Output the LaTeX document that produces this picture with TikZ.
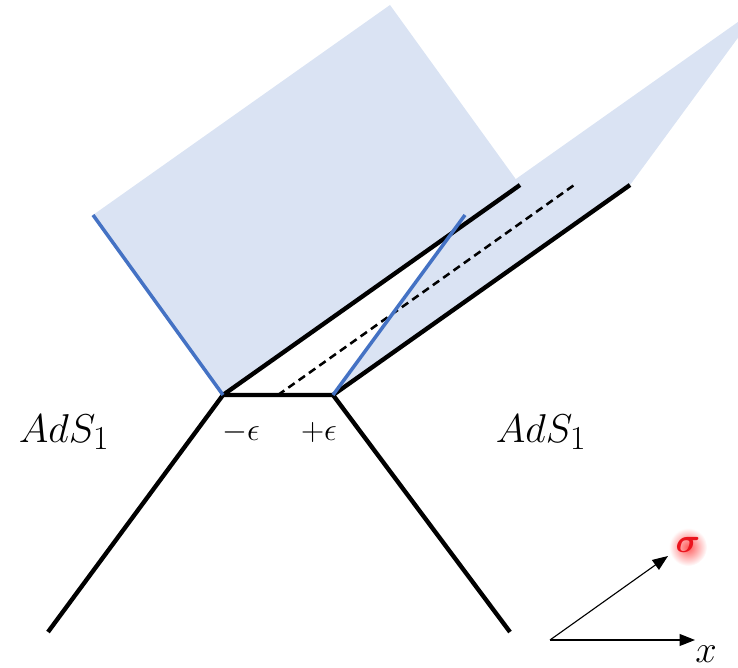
\documentclass[tikz,border=0pt]{standalone}
\usepackage{amsmath}
\usepackage{tikz}
\usetikzlibrary{arrows.meta}
\definecolor{sheetblue}{RGB}{218,227,243}
\definecolor{edgeblue}{RGB}{68,114,196}
\definecolor{pointred}{RGB}{235,20,30}

\begin{document}
\begin{tikzpicture}[x=0.025cm, y=-0.025cm,
  sheet/.style={fill=sheetblue, draw=none},
  wall/.style={line width=3.1pt, color=black, line join=miter},
  brane/.style={line width=2.5pt, color=edgeblue},
  axis/.style={-{Triangle[length=11pt, width=8.5pt]}, line width=0.8pt},
  lab/.style={font=\Huge, scale=1.15},
  eps/.style={font=\huge, scale=1.1}
]
  \useasboundingbox (0,0) rectangle (738,668);

  % Junction and corner points
  \coordinate (Jm) at (223,395);
  \coordinate (Jp) at (333,395);
  \coordinate (Jmid) at (278,395);
  \coordinate (Lfar) at (93,215);
  \coordinate (Ltop) at (390,5);
  \coordinate (Lend) at (520,185);
  \coordinate (Rblue) at (465,215);
  \coordinate (Rtop) at (762,5);
  \coordinate (Rend) at (630,185);
  \coordinate (Dend) at (577,183);
  \coordinate (Bl) at (48,632);
  \coordinate (Br) at (510,632);

  % Shaded sheets
  \begin{scope}
    \clip (0,0) rectangle (738,668);
    \fill[sheet] (Jp) -- (Rblue) -- (Rtop) -- (Rend) -- cycle;
  \end{scope}
  \fill[sheet] (Jm) -- (Lfar) -- (Ltop) -- (Lend) -- cycle;

  % Dashed middle line
  \draw[line width=1.8pt, dash pattern=on 5.5pt off 3.5pt] (Jmid) -- (Dend);

  % Black walls
  \draw[wall] (Bl) -- (Jm) -- (Jp) -- (Br);
  \draw[wall] (Jm) -- (Lend);
  \draw[wall] (Jp) -- (Rend);

  % Blue edges
  \draw[brane] (Lfar) -- (Jm);
  \draw[brane] (Jp) -- (Rblue);

  % Labels
  \node[lab] (adsL) at (64,432) {$AdS_1$};
  \node[lab] (adsR) at (541,432) {$AdS_1$};
  \node[eps] (epsm) at (241,432) {$-\epsilon$};
  \node[eps] (epsp) at (319,432) {$+\epsilon$};

  % Axes
  \coordinate (O) at (550,640);
  \coordinate (Xe) at (695,640);
  \coordinate (Se) at (668,556);
  \draw[axis] (O) -- (Xe);
  \draw[axis] (O) -- (Se);
  \node[eps, scale=1.2] (xlab) at (706,654) {$x$};

  % Pointer on sigma
  \shade[inner color=red!65, outer color=white] (688,547) circle (19);
  \node[text=pointred, font=\LARGE, scale=1.4] (sig) at (688,545) {$\boldsymbol{\sigma}$};
\end{tikzpicture}
\end{document}
